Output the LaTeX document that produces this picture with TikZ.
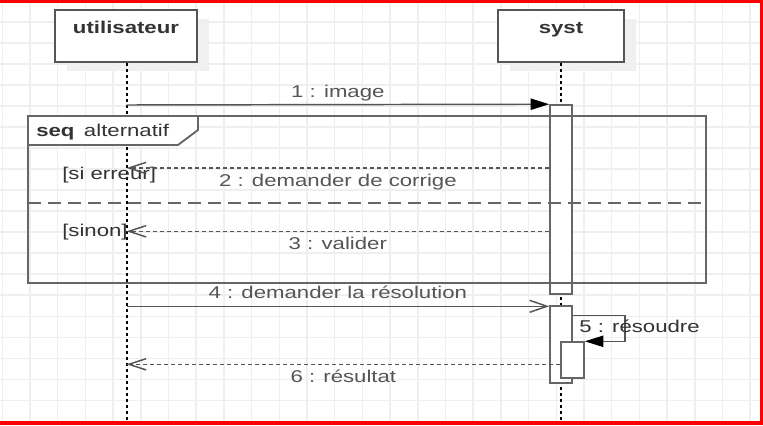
\documentclass[tikz,border=0pt]{standalone}
\usepackage{fontspec}
\setmainfont{Liberation Sans}[FakeStretch=1.3]
\usetikzlibrary{arrows.meta,shadows}
\definecolor{txtgray}{HTML}{333333}
\definecolor{linegray}{HTML}{555555}
\definecolor{framegray}{HTML}{666666}
\definecolor{gridgray}{HTML}{EFEFEF}

\begin{document}
\begin{tikzpicture}[x=0.75pt,y=-0.75pt,font=\fontsize{12.8}{15}\selectfont,text=txtgray,
    lifebox/.style={draw=linegray,line width=1.3pt,fill=white,minimum height=39pt,inner sep=0pt,
      general shadow={fill=black!6,shadow xshift=9pt,shadow yshift=-7pt}},
    boxlbl/.style={anchor=base,font=\fontsize{12.8}{15}\selectfont\bfseries},
    lifeline/.style={black,line width=1.5pt,dash pattern=on 2.25pt off 2.25pt},
    actbar/.style={draw=framegray,line width=1.2pt,fill=white,minimum width=16.5pt,inner sep=0pt},
    frame/.style={draw=framegray,line width=1.4pt},
    sepline/.style={framegray,line width=1.4pt,dash pattern=on 9.75pt off 5.25pt},
    syncmsg/.style={linegray,line width=1.1pt,-{Triangle[length=14pt,width=8.5pt,color=black]}},
    openmsg/.style={linegray,line width=1.1pt,-{Straight Barb[length=13pt,width=9pt]}},
    replymsg/.style={linegray,line width=1.1pt,dash pattern=on 3pt off 2.25pt,
      -{Straight Barb[length=13pt,width=8.5pt]}},
    lblabove/.style={anchor=base,yshift=5.6pt},
    lblbelow/.style={anchor=base,yshift=-13.8pt},
    gridline/.style={draw=gridgray,line width=1.1pt}]
    \useasboundingbox (0,0) rectangle (763,425);
    \fill[white] (0,0) rectangle (763,425);
    % draw the grid
    \foreach \gx in {0,...,27}
      \draw[gridline] (2.3+27.7*\gx,0) -- (2.3+27.7*\gx,425);
    \foreach \gy in {0,...,20}
      \draw[gridline] (0,0.8+21.03*\gy) -- (763,0.8+21.03*\gy);

    % the two lifelines
    \node[lifebox,minimum width=106.5pt] (user) at (126,36) {};
    \node[boxlbl] (userlbl) at (126,33.3) {utilisateur};
    \node[lifebox,minimum width=94.5pt] (syst) at (561,36) {};
    \node[boxlbl] (systlbl) at (561,33.3) {syst};
    \coordinate (userend) at (126.5,421);
    \coordinate (systend) at (561,421);
    \draw[lifeline] (user.south -| userend) -- (userend);
    \draw[lifeline] (syst.south) -- (systend);

    % activation bars
    \node[actbar,minimum height=141.75pt] (act1) at (561,199.5) {};
    \node[actbar,minimum height=57.75pt] (act2) at (561,344.5) {};
    \node[actbar,minimum width=17.25pt,minimum height=27pt] (act3) at (572.5,360) {};

    % the alt frame
    \coordinate (frnw) at (28,116);
    \coordinate (frse) at (706,283);
    \draw[frame] (frnw) rectangle (frse);
    \draw[frame,fill=white] (frnw) -- (198,116) -- (198,130) -- (178,145) -- (28,145) -- cycle;
    \node[anchor=base west,inner sep=0pt] (seqlbl) at (36,136) {\textbf{seq}\hspace{2.5pt} alternatif};
    \coordinate (sepw) at (28,203);
    \coordinate (sepe) at (706,203);
    \draw[sepline] (sepw) -- (sepe);
    \node[anchor=base west,inner sep=0pt] (guard1) at (62,179) {[si erreur]};
    \node[anchor=base west,inner sep=0pt] (guard2) at (62,236) {[sinon]};

    % messages
    \coordinate (u1) at (126.5,105);
    \draw[syncmsg] (u1) -- node[lblabove] (l1) {1 : image} (act1.north west);
    \coordinate (u2) at (126.5,168);
    \draw[replymsg] (act1.west |- u2) -- node[lblbelow] (l2) {2 : demander de corrige} (u2);
    \coordinate (u3) at (126.5,231.3);
    \draw[replymsg] (act1.west |- u3) -- node[lblbelow] (l3) {3 : valider} (u3);
    \coordinate (u4) at (126.5,306.3);
    \draw[openmsg] (u4) -- node[lblabove] (l4) {4 : demander la résolution} (act2.west |- u4);
    \coordinate (r5a) at (625,315.3);
    \coordinate (r5b) at (625,341.3);
    \draw[syncmsg] (act2.east |- r5a) -- (r5a) -- (r5b) -- (act3.east |- r5b);
    \node[anchor=base west,inner sep=0pt] (l5) at (579,332.7) {5 : résoudre};
    \coordinate (u6) at (126.5,364.3);
    \draw[replymsg] (act3.west |- u6) -- node[lblbelow] (l6) {6 : résultat} (u6);

    % red border
    \fill[red] (0,0) rectangle (763,3);
    \fill[red] (760,0) rectangle (763,425);
    \fill[red] (0,421) rectangle (763,425);
  \end{tikzpicture}
\end{document}
